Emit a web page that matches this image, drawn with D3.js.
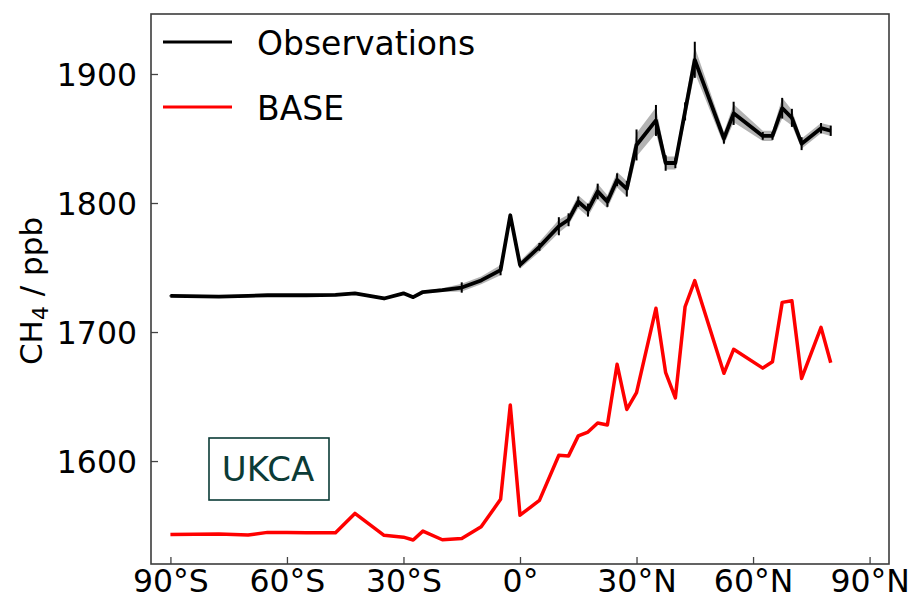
<!DOCTYPE html>
<html>
<head>
<meta charset="utf-8">
<script src="https://cdn.jsdelivr.net/npm/d3@7"></script>
<style>
  html, body { margin: 0; padding: 0; background: #fff; }
  svg { display: block; }
  text { font-family: "DejaVu Sans", sans-serif; }
</style>
</head>
<body>
<svg id="chart" width="912" height="604"></svg>
<script>
// Latitude bins (degrees north) shared by both series
const latitudes = [-90, -77.5, -70, -65, -60, -55, -47.5, -42.5, -35, -30, -27.5, -25, -20, -15, -10, -5, -2.5, 0,
  5, 10, 12.5, 15, 17.5, 20, 22.5, 25, 27.5, 30, 35, 37.5, 40, 42.5, 45, 52.5, 55, 62.5, 65, 67.5, 70, 72.5, 77.5, 80];

// Observed surface CH4 (ppb)
const observations = [1728, 1727.5, 1728, 1728.5, 1728.5, 1728.5, 1728.8, 1730, 1726, 1730, 1727, 1731, 1732.5, 1734.5, 1740, 1748, 1790.5, 1752,
  1766, 1782, 1787, 1801, 1794.5, 1809, 1801, 1818, 1811, 1845, 1864, 1831, 1831, 1871, 1911, 1850, 1869.5, 1852, 1852, 1873.5, 1866, 1846, 1858, 1856];

// Half-length of observation error bars (ppb)
const observationErr = [0.5, 0.5, 0.5, 0.5, 0.5, 0.5, 0.5, 0.5, 0.5, 0.5, 0.5, 0.5, 0.5, 4, 1, 4, 1, 2,
  3, 7, 5, 4, 5, 6, 4, 5, 6, 12, 12, 6, 4, 7, 14, 4, 9, 3, 3, 8, 7, 5, 4, 4];

// Half-width of the shaded observation spread (ppb)
const observationSpread = [1, 1, 1, 1, 1, 1, 1, 1, 1, 1, 1, 1, 1.5, 3, 3, 4, 2, 3,
  4, 5, 4, 5, 5, 6, 5, 6, 6, 9, 10, 5, 5, 7, 10, 5, 7, 4, 4, 8, 6, 4, 4, 4];

// UKCA BASE simulation (ppb)
const base = [1543, 1543.5, 1542.6, 1544.7, 1544.6, 1544.5, 1544.4, 1559.4, 1542.4, 1541, 1538.8, 1545.7, 1539, 1540, 1549, 1570.3, 1643.4, 1558,
  1569.5, 1604.5, 1604, 1619.5, 1622.5, 1629.5, 1628, 1675, 1640, 1653, 1718.4, 1668.5, 1649, 1719.6, 1739.8, 1668, 1686.6, 1672, 1677, 1723, 1724.3, 1664, 1703.6, 1676.2];

const xTicks = [-90, -60, -30, 0, 30, 60, 90];
const xTickLabels = ["90°S", "60°S", "30°S", "0°", "30°N", "60°N", "90°N"];
const yTicks = [1600, 1700, 1800, 1900];

const seriesNames = ["Observations", "BASE"];
const seriesColors = ["#000000", "#ff0000"];
const modelName = "UKCA";

const svg = d3.select("#chart");
const plot = { left: 151, right: 889, top: 14, bottom: 564 };

const x = d3.scaleLinear().domain([-95, 95]).range([plot.left, plot.right]);
const y = d3.scaleLinear().domain([1520.2, 1946.5]).range([plot.bottom, plot.top]);

const obsRows = latitudes.map((lat, i) => ({
  lat, v: observations[i], err: observationErr[i], spread: observationSpread[i]
}));
const baseRows = latitudes.map((lat, i) => ({ lat, v: base[i] }));

const g = svg.append("g");

// Shaded spread around observations
g.append("path")
  .datum(obsRows)
  .attr("fill", "#9a9a9a")
  .attr("fill-opacity", 0.75)
  .attr("d", d3.area()
    .x(d => x(d.lat))
    .y0(d => y(d.v - d.spread))
    .y1(d => y(d.v + d.spread)));

// Observation line
g.append("path")
  .datum(obsRows)
  .attr("fill", "none")
  .attr("stroke", seriesColors[0])
  .attr("stroke-width", 3.8)
  .attr("stroke-linejoin", "round")
  .attr("d", d3.line().x(d => x(d.lat)).y(d => y(d.v)));

// Observation error bars
g.selectAll("line.err")
  .data(obsRows)
  .join("line")
  .attr("class", "err")
  .attr("x1", d => x(d.lat))
  .attr("x2", d => x(d.lat))
  .attr("y1", d => y(d.v - d.err))
  .attr("y2", d => y(d.v + d.err))
  .attr("stroke", "#000")
  .attr("stroke-width", 2);

// Model line
g.append("path")
  .datum(baseRows)
  .attr("fill", "none")
  .attr("stroke", seriesColors[1])
  .attr("stroke-width", 3.5)
  .attr("stroke-linejoin", "round")
  .attr("d", d3.line().x(d => x(d.lat)).y(d => y(d.v)));

// Axes with inward ticks
const fontTick = "31.5px";
const xAxis = svg.append("g")
  .attr("transform", `translate(0,${plot.bottom})`)
  .call(d3.axisBottom(x).tickValues(xTicks).tickFormat((d, i) => xTickLabels[i])
    .tickSizeInner(-7).tickSizeOuter(0).tickPadding(6));
const yAxis = svg.append("g")
  .attr("transform", `translate(${plot.left},0)`)
  .call(d3.axisLeft(y).tickValues(yTicks).tickFormat(d3.format("d"))
    .tickSizeInner(-7).tickSizeOuter(0).tickPadding(14));

[xAxis, yAxis].forEach(ax => {
  ax.select(".domain").remove();
  ax.selectAll(".tick line").attr("stroke", "#444").attr("stroke-width", 1.3);
  ax.selectAll(".tick text")
    .attr("fill", "#000")
    .style("font-size", fontTick)
    .style("font-family", "'DejaVu Sans', sans-serif");
});
yAxis.selectAll(".tick text").attr("dy", "0.36em");

// Frame
svg.append("rect")
  .attr("x", plot.left).attr("y", plot.top)
  .attr("width", plot.right - plot.left).attr("height", plot.bottom - plot.top)
  .attr("fill", "none").attr("stroke", "#3c3c3c").attr("stroke-width", 1.6);

// Y axis title with subscript
const yTitle = svg.append("text")
  .attr("transform", `translate(42,${(plot.top + plot.bottom) / 2 + 2}) rotate(-90)`)
  .attr("text-anchor", "middle")
  .style("font-size", "31px")
  .attr("fill", "#000");
yTitle.append("tspan").text("CH");
yTitle.append("tspan").text("4").style("font-size", "22px").attr("dy", "6");
yTitle.append("tspan").text(" / ppb").attr("dy", "-6");

// Legend
const legend = svg.append("g");
seriesNames.forEach((name, i) => {
  const ly = 42 + i * 65;
  legend.append("line")
    .attr("x1", 163).attr("x2", 232).attr("y1", ly).attr("y2", ly)
    .attr("stroke", seriesColors[i]).attr("stroke-width", 3);
  legend.append("text")
    .attr("x", 257).attr("y", ly + 13)
    .style("font-size", "33px")
    .attr("fill", "#000")
    .text(name);
});

// Model name box
const boxColor = "#0b3b36";
svg.append("rect")
  .attr("x", 209).attr("y", 438).attr("width", 120).attr("height", 62)
  .attr("fill", "#fff").attr("stroke", boxColor).attr("stroke-width", 1.6);
svg.append("text")
  .attr("x", 268).attr("y", 481)
  .attr("text-anchor", "middle")
  .style("font-size", "34px")
  .attr("fill", boxColor)
  .text(modelName);
</script>
</body>
</html>
